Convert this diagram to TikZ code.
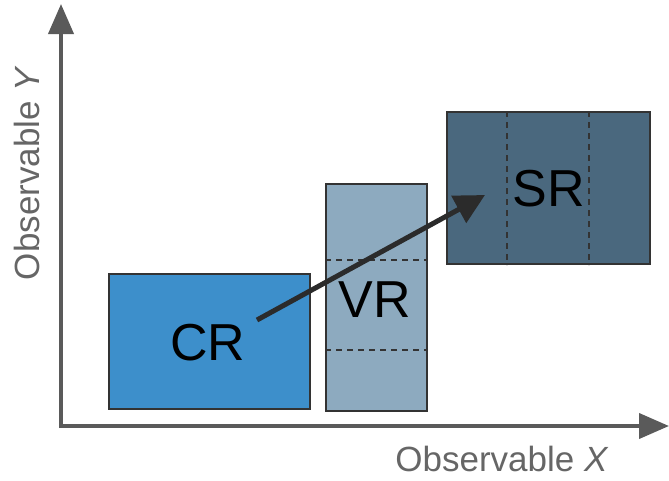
\documentclass[tikz,border=0pt]{standalone}
\usepackage{fontspec}
\setmainfont{Liberation Sans}
\usetikzlibrary{arrows.meta}
\definecolor{axisgray}{HTML}{5A5A5A}
\definecolor{labelgray}{HTML}{666666}
\definecolor{edgegray}{HTML}{333333}
\definecolor{crfill}{HTML}{3D8FCB}
\definecolor{vrfill}{HTML}{8DAABF}
\definecolor{srfill}{HTML}{4A687E}
\begin{document}
\begin{tikzpicture}[x=1pt,y=-1pt,
  region/.style={draw=edgegray,line width=2pt,inner sep=0pt},
  divider/.style={draw=edgegray,line width=2.5pt,dash pattern=on 6pt off 5pt},
  axis/.style={draw=axisgray,line width=4pt,-{Triangle[length=30pt,width=25pt]}},
  bigtext/.style={font=\fontsize{52}{52}\selectfont,text=black},
  axlabel/.style={font=\fontsize{35}{35}\selectfont,text=labelgray}]
\useasboundingbox (0,0) rectangle (669,480);
% axes
\coordinate (ytip) at (61,4);
\coordinate (xtip) at (669,426);
\draw[axis] (61,428) -- (ytip);
\draw[axis] (59,426) -- (xtip);
% regions
\node[region,fill=crfill,minimum width=201pt,minimum height=135pt] (cr) at (209.5,341.5) {};
\node[region,fill=vrfill,minimum width=101pt,minimum height=227pt] (vr) at (376.5,297.5) {};
\node[region,fill=srfill,minimum width=203pt,minimum height=152pt] (sr) at (548.5,188) {};
% dividers
\draw[divider] ([yshift=-77pt]vr.north west) -- ([yshift=-77pt]vr.north east);
\draw[divider] ([yshift=-167pt]vr.north west) -- ([yshift=-167pt]vr.north east);
\draw[divider] ([xshift=61pt]sr.north west) -- ([xshift=61pt]sr.south west);
\draw[divider] ([xshift=143pt]sr.north west) -- ([xshift=143pt]sr.south west);
% labels
\node[bigtext] (crl) at (208,343) {CR};
\node[bigtext] (vrl) at (375,300) {VR};
\node[bigtext] (srl) at (549,189) {SR};
% main arrow
\coordinate (a0) at (257,320);
\coordinate (a1) at (485,195);
\draw[draw=edgegray!85!black,line width=5pt,-{Triangle[length=30pt,width=30pt]}] (a0) -- (a1);
% axis labels
\node[axlabel,anchor=center] (xl) at (502,459) {Observable \textit{X}};
\node[axlabel,anchor=center,rotate=90] (yl) at (27,173) {Observable \textit{Y}};
\end{tikzpicture}
\end{document}
